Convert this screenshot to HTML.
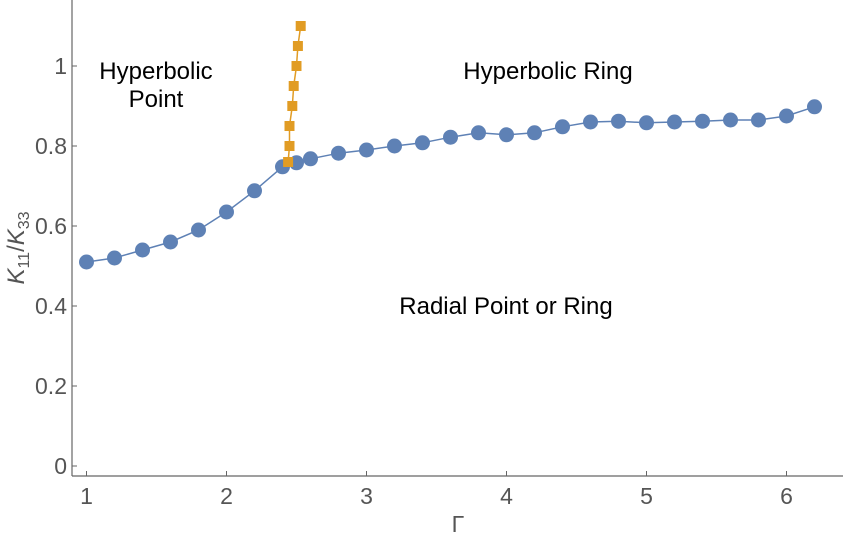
<!DOCTYPE html>
<html><head><meta charset="utf-8"><style>
body{margin:0;background:#fff;}
svg{display:block;font-family:"Liberation Sans",sans-serif;}
</style></head><body>
<svg id="chart" width="843" height="540">
<g id="axes"></g>
<g id="marks"></g>
<text font-size="24" text-anchor="middle" fill="#000"><tspan x="156" y="79">Hyperbolic</tspan><tspan x="156" y="107">Point</tspan></text>
<text x="548" y="79" font-size="24" text-anchor="middle" fill="#000">Hyperbolic Ring</text>
<text x="506" y="314" font-size="24" text-anchor="middle" fill="#000">Radial Point or Ring</text>
<text x="458" y="532" font-size="23" text-anchor="middle" fill="#555">Γ</text>
<text transform="translate(24,248) rotate(-90)" font-size="24" text-anchor="middle" fill="#555"><tspan font-style="italic">K</tspan><tspan font-size="16" dy="5">11</tspan><tspan dy="-5">/</tspan><tspan font-style="italic">K</tspan><tspan font-size="16" dy="5">33</tspan></text>
</svg>
<script>
const xTicks=[1,2,3,4,5,6];
const yTicks=[0,0.2,0.4,0.6,0.8,1];
const yTickLabels=["0","0.2","0.4","0.6","0.8","1"];
const blueX=[1,1.2,1.4,1.6,1.8,2,2.2,2.4,2.5,2.6,2.8,3,3.2,3.4,3.6,3.8,4,4.2,4.4,4.6,4.8,5,5.2,5.4,5.6,5.8,6,6.2];
const blueY=[0.51,0.52,0.54,0.56,0.59,0.635,0.688,0.748,0.758,0.768,0.782,0.79,0.8,0.808,0.822,0.833,0.828,0.833,0.848,0.86,0.862,0.858,0.86,0.862,0.865,0.865,0.875,0.898];
const orangeX=[2.44,2.45,2.45,2.47,2.48,2.5,2.51,2.53];
const orangeY=[0.76,0.8,0.85,0.9,0.95,1.0,1.05,1.1];
const NS="http://www.w3.org/2000/svg";
const sx=v=>86.5+(v-1)*140;
const sy=v=>466-v*400;
const axes=document.getElementById('axes'),marks=document.getElementById('marks');
function mk(tag,attrs,parent){const e=document.createElementNS(NS,tag);for(const k in attrs)e.setAttribute(k,attrs[k]);parent.appendChild(e);return e;}
let l=mk('line',{x1:72,y1:0,x2:72,y2:476,stroke:'#666','stroke-width':1.2},axes);


l=mk('line',{x1:72,y1:476,x2:843,y2:476,stroke:'#666','stroke-width':1.2},axes);


xTicks.forEach(t=>{
 const tk=mk('line',{x1:sx(t),y1:476,x2:sx(t),y2:471,stroke:'#666'},axes);
 
 
 const tx=mk('text',{x:sx(t),y:504,'font-size':23,'text-anchor':'middle',fill:'#555'},axes);
 tx.textContent=String(t);
 
 
});
yTicks.forEach((t,i)=>{
 const tk=mk('line',{x1:72,y1:sy(t),x2:77,y2:sy(t),stroke:'#666'},axes);
 
 
 const tx=mk('text',{x:67,y:sy(t)+8,'font-size':23,'text-anchor':'end',fill:'#555'},axes);
 tx.textContent=yTickLabels[i];
 
 
});
const bp=mk('polyline',{points:blueX.map((x,i)=>sx(x)+','+sy(blueY[i])).join(' '),fill:'none',stroke:'#5e81b5','stroke-width':1.5},marks);


blueX.forEach((x,i)=>{
 const c=mk('circle',{cx:sx(x),cy:sy(blueY[i]),r:7.5,fill:'#5e81b5'},marks);
 
 
});
const op=mk('polyline',{points:orangeX.map((x,i)=>sx(x)+','+sy(orangeY[i])).join(' '),fill:'none',stroke:'#e19c24','stroke-width':1.5},marks);


orangeX.forEach((x,i)=>{
 const r=mk('rect',{x:sx(x)-5,y:sy(orangeY[i])-5,width:10,height:10,fill:'#e19c24'},marks);
 
 
});
</script>
</body></html>
